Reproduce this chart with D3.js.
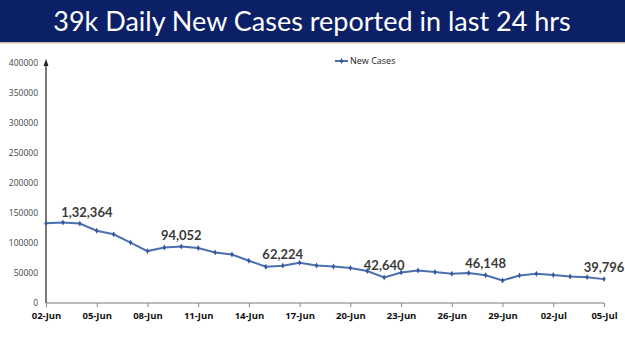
<!DOCTYPE html>
<html>
<head>
  <style>
    html, body { margin: 0; padding: 0; background: #fff; }
    svg { display: block; }
    .ytick { font-family: "Open Sans", sans-serif; font-size: 8.5px; fill: #444; }
    .xtick { font-family: "Open Sans", sans-serif; font-size: 9.5px; font-weight: bold; fill: #111; }
    .dlabel { font-family: "Lato", sans-serif; font-size: 13px; font-weight: bold; fill: #3a3a3a; text-anchor: middle; }
  </style>
</head>
<body>
  <svg id="chart" width="625" height="351"></svg>

  <script src="https://d3js.org/d3.v7.min.js"></script>
  <script>
    // Chart data
    const dates = ["02-Jun","03-Jun","04-Jun","05-Jun","06-Jun","07-Jun","08-Jun","09-Jun","10-Jun","11-Jun",
                   "12-Jun","13-Jun","14-Jun","15-Jun","16-Jun","17-Jun","18-Jun","19-Jun","20-Jun","21-Jun",
                   "22-Jun","23-Jun","24-Jun","25-Jun","26-Jun","27-Jun","28-Jun","29-Jun","30-Jun","01-Jul",
                   "02-Jul","03-Jul","04-Jul","05-Jul"];
    const newCases = [132788, 134154, 132364, 120529, 114460, 100636, 86498, 92596, 94052, 91702,
                      84332, 80834, 70421, 60471, 62224, 67208, 62480, 60753, 58419, 53256,
                      42640, 50848, 54069, 51667, 48698, 50040, 46148, 37566, 45951, 48786,
                      46617, 44111, 43071, 39796];
    const labelledDates = ["04-Jun", "10-Jun", "16-Jun", "22-Jun", "28-Jun", "05-Jul"];
    const xTickLabels = ["02-Jun","05-Jun","08-Jun","11-Jun","14-Jun","17-Jun","20-Jun","23-Jun","26-Jun","29-Jun","02-Jul","05-Jul"];
    const yTicks = [0, 50000, 100000, 150000, 200000, 250000, 300000, 350000, 400000];
    const title = "39k Daily New Cases reported in last 24 hrs";
    const seriesName = "New Cases";

    const data = dates.map((d, i) => ({ date: d, value: newCases[i] }));

    const svg = d3.select("#chart");
    const lineColor = "#4a70b0";

    // Title banner
    svg.append("rect").attr("x", 0).attr("y", 0).attr("width", 625).attr("height", 42).attr("fill", "#0b2066");
    svg.append("rect").attr("x", 0).attr("y", 42).attr("width", 625).attr("height", 1.5).attr("fill", "#c9c2a8");
    svg.append("text")
       .attr("x", 312).attr("y", 31)
       .attr("text-anchor", "middle")
       .style("font-family", "Lato, sans-serif")
       .style("font-size", "27px")
       .style("fill", "#fff")
       .text(title);

    // Scales
    const x = d3.scalePoint().domain(dates).range([46, 604]);
    const y = d3.scaleLinear().domain([0, 400000]).range([303, 63]);

    // Y axis
    const yAxis = svg.append("g").attr("transform", "translate(46,0)")
      .call(d3.axisLeft(y).tickValues(yTicks).tickSize(0).tickPadding(8).tickFormat(d3.format("d")));
    yAxis.select(".domain").remove();
    yAxis.selectAll("text").attr("class", "ytick");
    svg.append("line").attr("x1", 46).attr("x2", 46).attr("y1", 303).attr("y2", 62)
       .attr("stroke", "#333").attr("stroke-width", 1.3);
    svg.append("path").attr("d", "M46,59 L43.5,66 L48.5,66 Z").attr("fill", "#222");

    // X axis
    const xAxis = svg.append("g").attr("transform", "translate(0,303)")
      .call(d3.axisBottom(x).tickValues(xTickLabels).tickSize(4).tickSizeOuter(0).tickPadding(5));
    xAxis.select(".domain").attr("stroke", "#777").attr("d", "M46,0H604");
    xAxis.selectAll(".tick line").attr("stroke", "#888");
    xAxis.selectAll("text").attr("class", "xtick");

    // Line
    svg.append("path")
       .datum(data)
       .attr("fill", "none")
       .attr("stroke", lineColor)
       .attr("stroke-width", 2)
       .attr("d", d3.line().x(d => x(d.date)).y(d => y(d.value)));

    // Markers
    svg.selectAll(".mk")
       .data(data)
       .enter()
       .append("path")
       .attr("class", "mk")
       .attr("transform", d => `translate(${x(d.date)},${y(d.value)})`)
       .attr("d", d3.symbol(d3.symbolDiamond, 10)())
       .attr("fill", "#36579a");

    // Data labels
    const fmtIndian = v => {
      const s = String(v);
      if (s.length <= 3) return s;
      const last3 = s.slice(-3);
      let rest = s.slice(0, -3);
      const parts = [];
      while (rest.length > 2) { parts.unshift(rest.slice(-2)); rest = rest.slice(0, -2); }
      if (rest) parts.unshift(rest);
      return parts.join(",") + "," + last3;
    };
    svg.selectAll(".dlabel")
       .data(data.filter(d => labelledDates.includes(d.date)))
       .enter()
       .append("text")
       .attr("class", "dlabel")
       .attr("x", d => x(d.date) + (d.date === "04-Jun" ? 7 : 0))
       .attr("y", d => y(d.value) - 7)
       .text(d => fmtIndian(d.value));

    // Legend
    const lg = svg.append("g").attr("transform", "translate(335,61)");
    lg.append("line").attr("x1", 0).attr("x2", 13).attr("y1", 0).attr("y2", 0)
      .attr("stroke", lineColor).attr("stroke-width", 2);
    lg.append("path").attr("transform", "translate(6.5,0)").attr("d", d3.symbol(d3.symbolDiamond, 10)()).attr("fill", "#36579a");
    lg.append("text").attr("x", 15).attr("y", 3)
      .style("font-family", "Open Sans, sans-serif").style("font-size", "9px").style("fill", "#222")
      .text(seriesName);
  </script>
</body>
</html>
